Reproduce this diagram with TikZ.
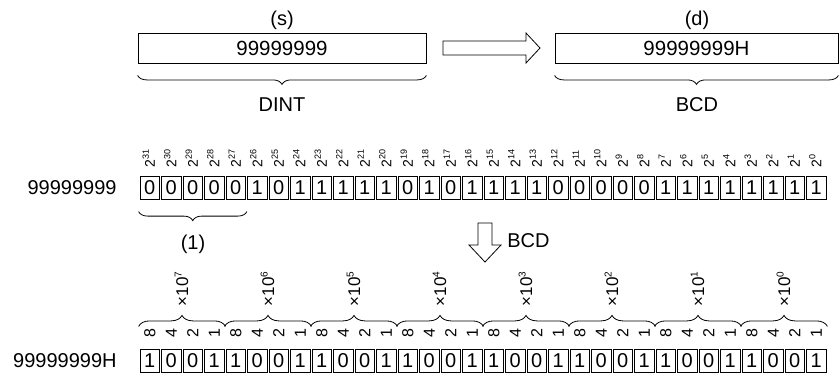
\documentclass[tikz,border=0pt]{standalone}
\usepackage{fontspec}
\setmainfont{Liberation Sans}
\usetikzlibrary{decorations.pathreplacing,calc}
\newcommand\fsz[1]{\fontsize{#1}{#1}\selectfont}
\newcommand\supr[3]{\raisebox{#1}{\fsz{#2}#3}}
\begin{document}
\begin{tikzpicture}[x=1pt,y=-1pt,line width=0.8pt,
  cell/.style={draw,minimum width=19.7pt,minimum height=22.4pt,inner sep=0pt,font=\fsz{20}},
  bigbox/.style={draw,minimum height=30pt,inner sep=0pt,font=\fsz{20.5}},
  lbl/.style={inner sep=0pt,font=\fsz{20}},
  bitlbl/.style={rotate=90,anchor=base west,inner sep=0pt,font=\fsz{14}},
  wlbl/.style={rotate=90,inner sep=0pt,font=\fsz{16}},
  declbl/.style={rotate=90,anchor=base west,inner sep=0pt,font=\fsz{17}},
  brc/.style={decorate,decoration={brace,amplitude=#1}},
  hollow/.style={draw,fill=white,line join=miter}]
\useasboundingbox (0,0) rectangle (839,373);

% top boxes
\node[bigbox,minimum width=288pt] (sbox) at (282,48) {99999999};
\node[lbl] (slbl) at (282,20) {(s)};
\draw[brc=9pt] ($(sbox.south east)+(0,12)$) -- ($(sbox.south west)+(0,12)$);
\node[lbl] (dint) at (282,105) {DINT};

\node[bigbox,minimum width=283pt] (dbox) at (696.5,48) {99999999H};
\node[lbl] (dlbl) at (697,20) {(d)};
\draw[brc=9pt] ($(dbox.south east)+(0,12)$) -- ($(dbox.south west)+(0,12)$);
\node[lbl] (bcdtop) at (697,105) {BCD};

\draw[hollow] (443,41) -- (526,41) -- (526,33) -- (540,48) -- (526,63) -- (526,55) -- (443,55) -- cycle;

% row 1
\node[lbl,anchor=east] (n1) at (117,188) {99999999};
\foreach \b [count=\i from 0] in {0,0,0,0,0,1,0,1,1,1,1,1,0,1,0,1,1,1,1,0,0,0,0,0,1,1,1,1,1,1,1,1} {
  \node[cell] (a\i) at (149.75+21.5*\i,188) {\b};
  \pgfmathtruncatemacro\e{31-\i}
  \node[bitlbl] (p\i) at ($(a\i.center)+(5,-20)$) {2\supr{6pt}{9}{\e}};
}
\draw[brc=9pt] ($(a4.south east)+(0.9,12)$) -- ($(a0.south west)+(-0.9,12)$);
\node[lbl] (one) at (193,244) {(1)};

% down arrow
\draw[hollow] (478,223) -- (492,223) -- (492,245) -- (501,245) -- (485,262) -- (469,245) -- (478,245) -- cycle;
\node[lbl,anchor=west] (bcdmid) at (507,241) {BCD};

% row 2
\node[lbl,anchor=east] (n2) at (117,361) {99999999H};
\foreach \b [count=\i from 0] in {1,0,0,1,1,0,0,1,1,0,0,1,1,0,0,1,1,0,0,1,1,0,0,1,1,0,0,1,1,0,0,1} {
  \node[cell] (b\i) at (149.75+21.5*\i,361) {\b};
}
\foreach \g in {0,...,7} {
  \foreach \w [count=\k from 0] in {8,4,2,1} {
    \pgfmathtruncatemacro\j{4*\g+\k}
    \node[wlbl] (w\j) at ($(b\j.center)+(0,-28)$) {\w};
  }
  \pgfmathtruncatemacro\s{4*\g}
  \pgfmathtruncatemacro\t{4*\g+3}
  \pgfmathtruncatemacro\e{7-\g}
  \draw[brc=11pt] ($(b\s.north west)+(-0.9,-23)$) -- ($(b\t.north east)+(0.9,-23)$);
  \node[declbl] (x\g) at ($(b\s.north west)!0.5!(b\t.north east)+(6.1,-43)$) {×10\supr{6.5pt}{10}{\e}};
}
\end{tikzpicture}
\end{document}
